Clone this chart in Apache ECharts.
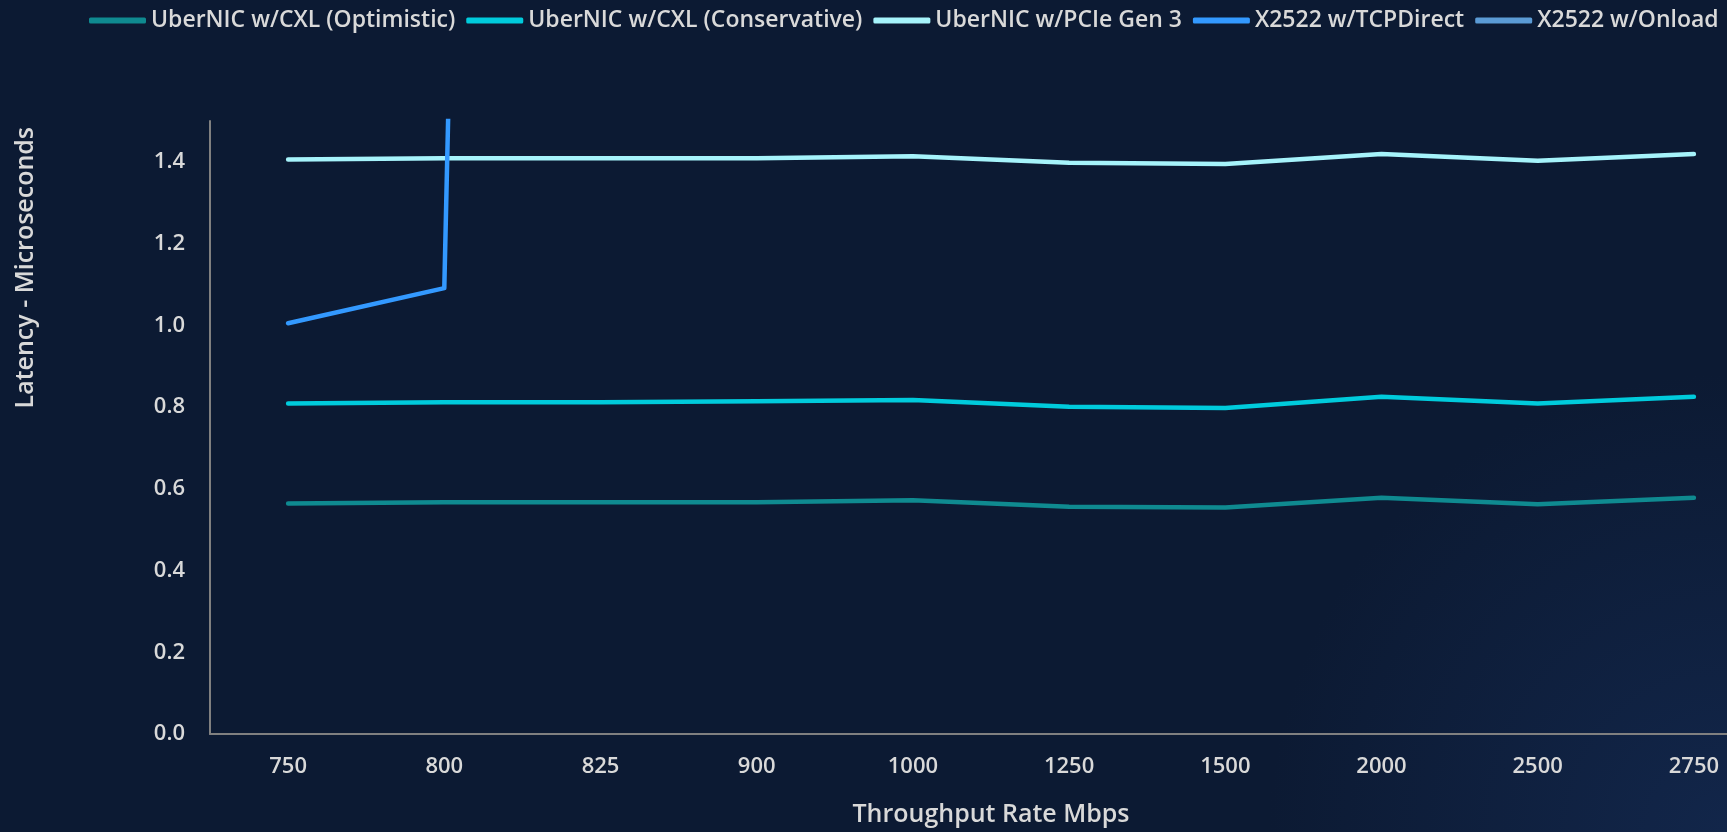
<!DOCTYPE html>
<html>
<head>
<meta charset="utf-8">
<script src="https://cdn.jsdelivr.net/npm/echarts@6/dist/echarts.min.js"></script>
<style>
  html, body { margin: 0; padding: 0; background: #0c1a33; overflow: hidden; }
  /* the plot area runs slightly past the right edge of the window */
  #chart { width: 1780px; height: 832px; }
</style>
</head>
<body>
<div id="chart"></div>
<script>
// Throughput rates (Mbps) on the category axis
const rates = ['750', '800', '825', '900', '1000', '1250', '1500', '2000', '2500', '2750'];

// Latency in microseconds per configuration
const cxlOptimistic    = [0.564, 0.567, 0.567, 0.567, 0.572, 0.556, 0.554, 0.578, 0.562, 0.578];
const cxlConservative  = [0.809, 0.812, 0.812, 0.814, 0.817, 0.801, 0.798, 0.825, 0.809, 0.825];
const pcieGen3         = [1.406, 1.409, 1.409, 1.409, 1.414, 1.398, 1.395, 1.419, 1.403, 1.419];
const x2522TcpDirect   = [1.005, 1.091, 18.0, null, null, null, null, null, null, null];
const x2522Onload      = [null, null, null, null, null, null, null, null, null, null];

const seriesNames = [
  'UberNIC w/CXL (Optimistic)',
  'UberNIC w/CXL (Conservative)',
  'UberNIC w/PCIe Gen 3',
  'X2522 w/TCPDirect',
  'X2522 w/Onload'
];
const seriesColors = ['#0f8a90', '#00cbdc', '#a6f3fb', '#3399ff', '#5b9bd5'];
const seriesData = [cxlOptimistic, cxlConservative, pcieGen3, x2522TcpDirect, x2522Onload];

const FONT = 'Open Sans';
const TEXT = '#d9d9d9';

const chart = echarts.init(document.getElementById('chart'), null, { renderer: 'canvas' });

chart.setOption({
  backgroundColor: {
    type: 'radial', x: 0.97, y: 1, r: 0.55,
    colorStops: [
      { offset: 0, color: '#12264a' },
      { offset: 1, color: '#0c1a33' }
    ]
  },
  animation: false,
  textStyle: { fontFamily: FONT, color: TEXT, fontWeight: 600 },
  legend: {
    top: 4,
    left: 84,
    itemWidth: 57,
    itemHeight: 6,
    itemGap: 11,
    textStyle: { color: TEXT, fontSize: 23, fontFamily: FONT, fontWeight: 600 },
    data: seriesNames.map(n => ({ name: n, icon: 'roundRect' }))
  },
  grid: {
    left: 210,
    top: 121,
    right: 8,
    height: 616,
    containLabel: false
  },
  xAxis: {
    type: 'category',
    data: rates,
    boundaryGap: true,
    name: 'Throughput Rate Mbps',
    nameLocation: 'middle',
    nameGap: 68,
    nameTextStyle: { color: TEXT, fontSize: 25, fontFamily: FONT, fontWeight: 600 },
    axisLine: { show: true, lineStyle: { color: '#808080', width: 2 } },
    axisTick: { show: false },
    axisLabel: { color: TEXT, fontSize: 22, margin: 22, fontFamily: FONT, fontWeight: 600 },
    splitLine: { show: false }
  },
  yAxis: {
    type: 'value',
    min: 0,
    max: 1.5,
    interval: 0.2,
    axisLine: { show: true, lineStyle: { color: '#808080', width: 2 } },
    axisTick: { show: false },
    splitLine: { show: false },
    axisLabel: {
      color: TEXT, fontSize: 22, margin: 25, fontFamily: FONT, fontWeight: 600,
      formatter: v => (v > 1.45 ? '' : v.toFixed(1))
    }
  },
  graphic: [{
    type: 'text',
    left: 13,
    top: 127,
    rotation: Math.PI / 2,
    style: {
      text: 'Latency - Microseconds',
      fill: TEXT,
      font: '600 25px "' + FONT + '"'
    }
  }],
  series: seriesNames.map((name, i) => ({
    name: name,
    type: 'line',
    data: seriesData[i],
    symbol: 'none',
    clip: true,
    color: seriesColors[i],
    lineStyle: { width: 4.5, color: seriesColors[i], cap: 'round', join: 'round' }
  }))
});
</script>
</body>
</html>
